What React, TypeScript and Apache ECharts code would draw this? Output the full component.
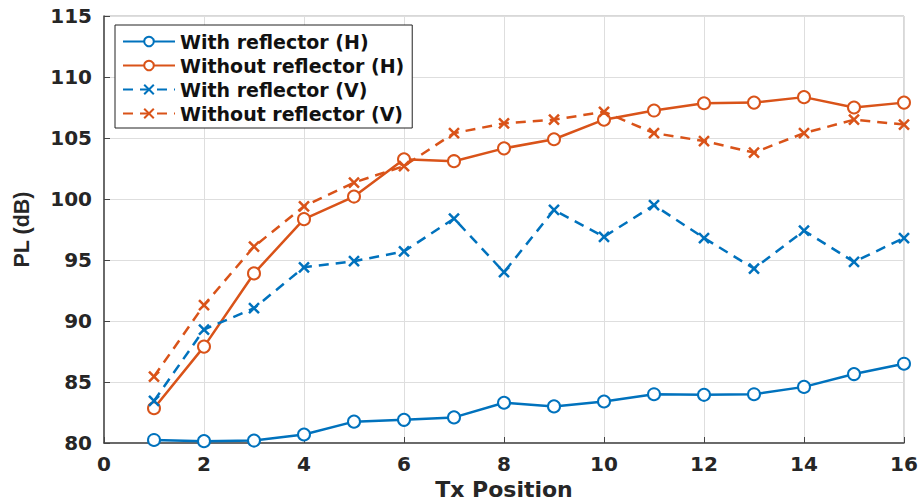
import React, { useEffect, useRef } from "react";
import * as echarts from "echarts";

const positions = [1, 2, 3, 4, 5, 6, 7, 8, 9, 10, 11, 12, 13, 14, 15, 16];
const withReflH = [80.25, 80.15, 80.2, 80.7, 81.75, 81.9, 82.1, 83.3, 83.0, 83.4, 84.0, 83.95, 84.0, 84.6, 85.65, 86.5];
const withoutReflH = [82.85, 87.9, 93.9, 98.35, 100.2, 103.25, 103.1, 104.15, 104.9, 106.5, 107.25, 107.85, 107.9, 108.35, 107.5, 107.9];
const withReflV = [83.45, 89.3, 91.05, 94.4, 94.9, 95.7, 98.4, 94.0, 99.1, 96.9, 99.5, 96.8, 94.3, 97.4, 94.85, 96.8];
const withoutReflV = [85.45, 91.3, 96.1, 99.4, 101.35, 102.7, 105.4, 106.2, 106.5, 107.15, 105.4, 104.75, 103.8, 105.4, 106.5, 106.1];
const seriesNames = ["With reflector (H)", "Without reflector (H)", "With reflector (V)", "Without reflector (V)"];

const BLUE = "#0072BD";
const ORANGE = "#D95319";
const CROSS = "path://M0,0L10,10M10,0L0,10";
const WIDE = "DejaVu Sans, Verdana, sans-serif";
const NARROW = "Liberation Sans, Arial, sans-serif";

export default function App() {
  const ref = useRef<HTMLDivElement>(null);
  useEffect(() => {
    if (!ref.current) return;
    const chart = echarts.init(ref.current, undefined, { renderer: "svg" });
    const pair = (arr: number[]) => arr.map((v, i) => [positions[i], v]);
    const mk = (name: string, data: number[], color: string, dashed: boolean, cross: boolean) => ({
      name,
      type: "line",
      data: pair(data),
      symbol: cross ? CROSS : "emptyCircle",
      symbolSize: cross ? 10 : 12,
      showSymbol: true,
      lineStyle: { color, width: 2.5, type: dashed ? [10, 7] : "solid" },
      itemStyle: { color, borderColor: color, borderWidth: 2.5 },
      emphasis: { disabled: true },
    });
    chart.setOption({
      animation: false,
      backgroundColor: "#fff",
      grid: {
        left: 104,
        right: 14,
        top: 16,
        bottom: 60,
        containLabel: false,
        outerBoundsMode: "none",
        show: true,
        borderColor: "#b0b0b0",
        borderWidth: 1,
      },
      legend: {
        show: true,
        left: 115,
        top: 25,
        orient: "vertical",
        data: seriesNames,
        itemWidth: 52,
        itemHeight: 12,
        itemGap: 5,
        padding: [7, 8, 5, 7],
        backgroundColor: "#fff",
        borderColor: "#222",
        borderWidth: 1,
        textStyle: { fontFamily: WIDE, fontWeight: "bold", fontSize: 19, color: "#111" },
      },
      xAxis: {
        type: "value",
        min: 0,
        max: 16,
        interval: 2,
        name: "Tx Position",
        nameLocation: "middle",
        nameGap: 28,
        nameTextStyle: { fontFamily: WIDE, fontWeight: "bold", fontSize: 22, color: "#262626" },
        axisLine: { show: true, lineStyle: { color: "#444", width: 1.5 } },
        axisTick: { show: true, inside: true, length: 6, lineStyle: { color: "#444" } },
        axisLabel: { fontFamily: WIDE, fontWeight: "bold", fontSize: 20, color: "#262626", margin: 11 },
        splitLine: { show: true, lineStyle: { color: "#dedede", width: 1 } },
      },
      yAxis: {
        type: "value",
        min: 80,
        max: 115,
        interval: 5,
        name: "PL (dB)",
        nameLocation: "middle",
        nameGap: 71,
        nameTextStyle: { fontFamily: NARROW, fontWeight: "bold", fontSize: 21.5, color: "#262626" },
        axisLine: { show: true, lineStyle: { color: "#444", width: 1.5 } },
        axisTick: { show: true, inside: true, length: 6, lineStyle: { color: "#444" } },
        axisLabel: { fontFamily: WIDE, fontWeight: "bold", fontSize: 20, color: "#262626", margin: 12 },
        splitLine: { show: true, lineStyle: { color: "#dedede", width: 1 } },
      },
      series: [
        mk(seriesNames[0], withReflH, BLUE, false, false),
        mk(seriesNames[1], withoutReflH, ORANGE, false, false),
        mk(seriesNames[2], withReflV, BLUE, true, true),
        mk(seriesNames[3], withoutReflV, ORANGE, true, true),
      ],
    });
    return () => chart.dispose();
  }, []);
  return <div ref={ref} style={{ width: 918, height: 503, position: "absolute", left: 0, top: 0 }} />;
}
